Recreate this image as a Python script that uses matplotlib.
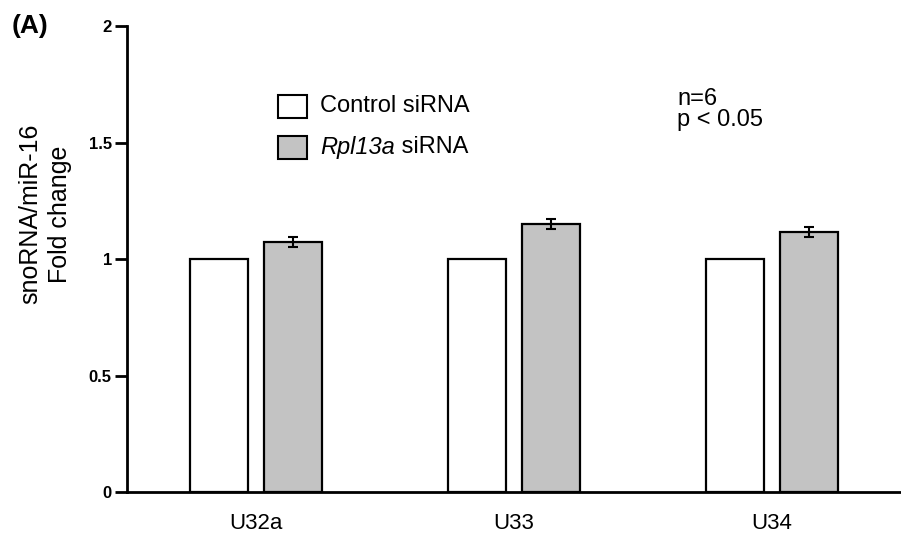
import matplotlib
matplotlib.use("Agg")
import matplotlib.pyplot as plt
import numpy as np
from matplotlib.patches import Rectangle

categories = ["U32a", "U33", "U34"]
control_vals = [1.0, 1.0, 1.0]
rpl_vals = [1.073, 1.150, 1.116]
rpl_err = [0.023, 0.020, 0.023]
yticks = [0, 0.5, 1, 1.5, 2]
ytick_labels = ["0", "0.5", "1", "1.5", "2"]
control_color = "white"
rpl_color = "#c3c3c3"

plt.rcParams['font.family'] = ['Liberation Sans', 'DejaVu Sans']

fig = plt.figure(figsize=(9.01, 5.46), dpi=100)
ax = fig.add_axes([0.141, 0.099, 0.859, 0.853])

x = np.arange(len(categories))
w = 0.225
off = 0.143
ax.bar(x - off, control_vals, w, color=control_color, edgecolor="black", linewidth=1.6, zorder=2)
ax.bar(x + off, rpl_vals, w, color=rpl_color, edgecolor="black", linewidth=1.6, zorder=2)
ax.errorbar(x + off, rpl_vals, yerr=rpl_err, fmt="none", ecolor="black",
            elinewidth=1.5, capsize=3.5, capthick=1.5, zorder=3)

ax.set_xlim(-0.5, 2.5)
ax.set_ylim(0, 2)
ax.set_yticks(yticks)
ax.set_yticklabels(ytick_labels, fontweight="bold", fontsize=12)
ax.set_xticks(x)
ax.set_xticklabels(categories, fontsize=16)
ax.tick_params(axis="x", length=0, pad=15)
ax.tick_params(axis="y", direction="out", length=9, width=2, pad=2)
for s in ["top", "right"]:
    ax.spines[s].set_visible(False)
for s in ["left", "bottom"]:
    ax.spines[s].set_linewidth(2)

fig.text(0.05, 0.608, "snoRNA/miR-16\nFold change", fontsize=18, rotation=90,
         ha="center", va="center", linespacing=1.3, multialignment="center")

# legend drawn manually (mixed italic / upright label)
bx, bw, bh = 0.3085, 0.0322, 0.0421
rows = [0.805, 0.730]
for yc, col in zip(rows, [control_color, rpl_color]):
    fig.patches.append(Rectangle((bx, yc - bh / 2), bw, bh, transform=fig.transFigure,
                                 facecolor=col, edgecolor="black", linewidth=1.5))
tx = 0.355
fig.text(tx, rows[0], "Control siRNA", fontsize=17, va="center", ha="left")
t_it = fig.text(tx, rows[1], "Rpl13a", fontsize=17, va="center", ha="left", style="italic")
plt.annotate(" siRNA", xy=(1, 0.5), xycoords=t_it, fontsize=17, va="center", ha="left",
             annotation_clip=False)

fig.text(0.7514, 1 - 105 / 546, "n=6", fontsize=17, va="baseline", ha="left")
fig.text(0.7514, 1 - 126 / 546, "p < 0.05", fontsize=17, va="baseline", ha="left")
fig.text(0.013, 0.975, "(A)", fontsize=19, fontweight="bold", va="top", ha="left")

fig.savefig("out.png", dpi=100)
